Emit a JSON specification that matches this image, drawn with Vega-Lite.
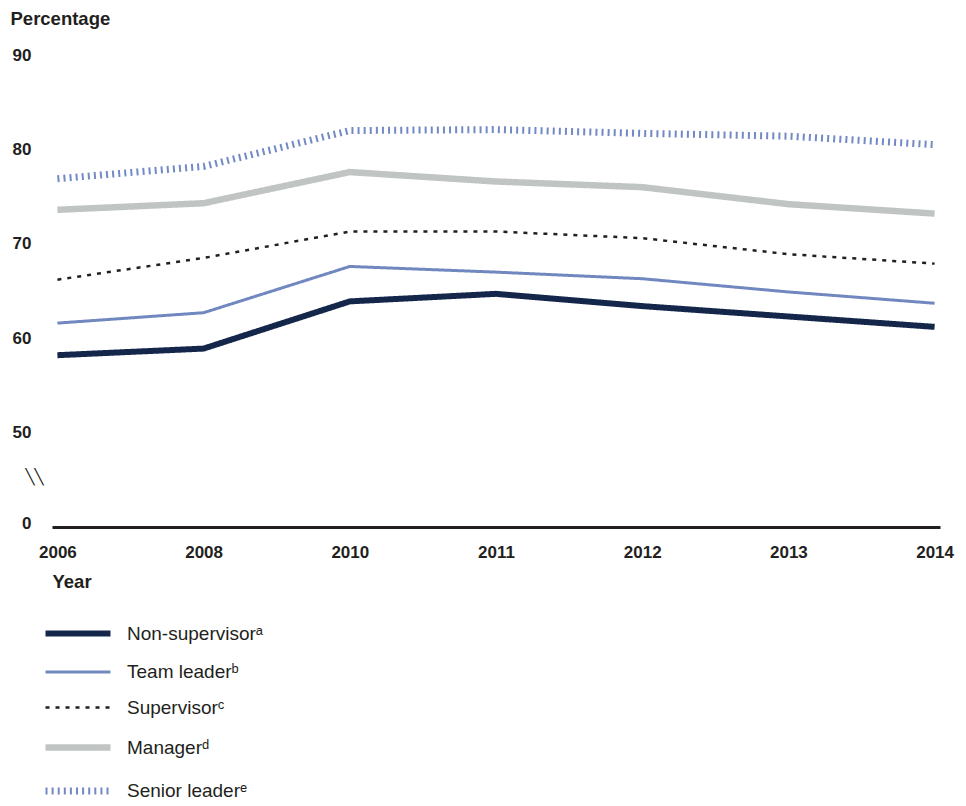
{
  "$schema": "https://vega.github.io/schema/vega-lite/v6.json",
  "width": 888,
  "height": 472,
  "autosize": {"type": "none"},
  "padding": {"left": 52, "top": 55, "right": 26, "bottom": 279},
  "background": "white",
  "config": {
    "view": {"stroke": null},
    "font": "Liberation Sans"
  },
  "data": {
    "values": [
      {"year": "2006", "series": "Non-supervisor", "value": 58.2},
      {"year": "2008", "series": "Non-supervisor", "value": 58.9},
      {"year": "2010", "series": "Non-supervisor", "value": 63.9},
      {"year": "2011", "series": "Non-supervisor", "value": 64.7},
      {"year": "2012", "series": "Non-supervisor", "value": 63.4},
      {"year": "2013", "series": "Non-supervisor", "value": 62.3},
      {"year": "2014", "series": "Non-supervisor", "value": 61.2},
      {"year": "2006", "series": "Team leader", "value": 61.6},
      {"year": "2008", "series": "Team leader", "value": 62.7},
      {"year": "2010", "series": "Team leader", "value": 67.6},
      {"year": "2011", "series": "Team leader", "value": 67.0},
      {"year": "2012", "series": "Team leader", "value": 66.3},
      {"year": "2013", "series": "Team leader", "value": 64.9},
      {"year": "2014", "series": "Team leader", "value": 63.7},
      {"year": "2006", "series": "Supervisor", "value": 66.2},
      {"year": "2008", "series": "Supervisor", "value": 68.5},
      {"year": "2010", "series": "Supervisor", "value": 71.3},
      {"year": "2011", "series": "Supervisor", "value": 71.3},
      {"year": "2012", "series": "Supervisor", "value": 70.6},
      {"year": "2013", "series": "Supervisor", "value": 68.9},
      {"year": "2014", "series": "Supervisor", "value": 67.9},
      {"year": "2006", "series": "Manager", "value": 73.6},
      {"year": "2008", "series": "Manager", "value": 74.3},
      {"year": "2010", "series": "Manager", "value": 77.6},
      {"year": "2011", "series": "Manager", "value": 76.6},
      {"year": "2012", "series": "Manager", "value": 76.0},
      {"year": "2013", "series": "Manager", "value": 74.2},
      {"year": "2014", "series": "Manager", "value": 73.2},
      {"year": "2006", "series": "Senior leader", "value": 76.9},
      {"year": "2008", "series": "Senior leader", "value": 78.2},
      {"year": "2010", "series": "Senior leader", "value": 82.0},
      {"year": "2011", "series": "Senior leader", "value": 82.1},
      {"year": "2012", "series": "Senior leader", "value": 81.7},
      {"year": "2013", "series": "Senior leader", "value": 81.4},
      {"year": "2014", "series": "Senior leader", "value": 80.5}
    ]
  },
  "mark": {"type": "line", "strokeCap": "butt", "strokeJoin": "miter"},
  "encoding": {
    "x": {
      "field": "year",
      "type": "ordinal",
      "scale": {"type": "point", "padding": 0.037},
      "axis": {
        "labelAngle": 0,
        "domainColor": "#231f20",
        "domainWidth": 3,
        "ticks": false,
        "labelFontSize": 17,
        "labelFontWeight": "bold",
        "labelColor": "#231f20",
        "labelPadding": 17,
        "title": "Year",
        "titleFontSize": 18.5,
        "titleFontWeight": "bold",
        "titleColor": "#231f20",
        "titleAnchor": "start",
        "titlePadding": 12
      }
    },
    "y": {
      "field": "value",
      "type": "quantitative",
      "scale": {"domain": [40, 90], "nice": false, "zero": false},
      "axis": {
        "values": [40, 45.3, 50, 60, 70, 80, 90],
        "labelExpr": "datum.value == 40 ? '0' : (datum.value < 49 ? '╲╲' : datum.label)",
        "grid": false,
        "domain": false,
        "ticks": false,
        "labelFontSize": {"condition": {"test": "datum.value > 41 && datum.value < 49", "value": 15}, "value": 17},
        "labelFont": {"condition": {"test": "datum.value > 41 && datum.value < 49", "value": "DejaVu Sans Mono"}, "value": "Liberation Sans"},
        "labelFontWeight": {"condition": {"test": "datum.value > 41 && datum.value < 49", "value": "normal"}, "value": "bold"},
        "labelPadding": {"condition": {"test": "datum.value > 41 && datum.value < 49", "value": 9}, "value": 21},
        "labelOffset": {"condition": {"test": "datum.value == 40", "value": -4}, "value": 0},
        "labelColor": "#231f20",
        "title": "Percentage",
        "titleAngle": 0,
        "titleAlign": "left",
        "titleBaseline": "alphabetic",
        "titleX": -42,
        "titleY": -31,
        "titleFontSize": 18.5,
        "titleFontWeight": "bold",
        "titleColor": "#231f20"
      }
    },
    "color": {
      "field": "series",
      "type": "nominal",
      "scale": {
        "domain": ["Non-supervisor", "Team leader", "Supervisor", "Manager", "Senior leader"],
        "range": ["#15264b", "#7087c0", "#231f20", "#c0c5c3", "#7289c6"]
      },
      "legend": {
        "orient": "none",
        "legendX": 14,
        "legendY": 567,
        "direction": "vertical",
        "title": null,
        "symbolType": "M-4,0H4",
        "symbolSize": 264,
        "labelFontSize": 19,
        "labelColor": "#231f20",
        "labelOffset": 37,
        "rowPadding": 16,
        "labelExpr": "datum.label + (datum.label == 'Non-supervisor' ? 'ᵃ' : datum.label == 'Team leader' ? 'ᵇ' : datum.label == 'Supervisor' ? 'ᶜ' : datum.label == 'Manager' ? 'ᵈ' : 'ᵉ')"
      }
    },
    "strokeWidth": {
      "field": "series",
      "type": "nominal",
      "scale": {
        "type": "ordinal",
        "domain": ["Non-supervisor", "Team leader", "Supervisor", "Manager", "Senior leader"],
        "range": [6, 3, 2.5, 6.5, 7]
      }
    },
    "strokeDash": {
      "field": "series",
      "type": "nominal",
      "scale": {
        "domain": ["Non-supervisor", "Team leader", "Supervisor", "Manager", "Senior leader"],
        "range": [[1, 0], [1, 0], [4, 6], [1, 0], [2, 4.1]]
      }
    }
  }
}
